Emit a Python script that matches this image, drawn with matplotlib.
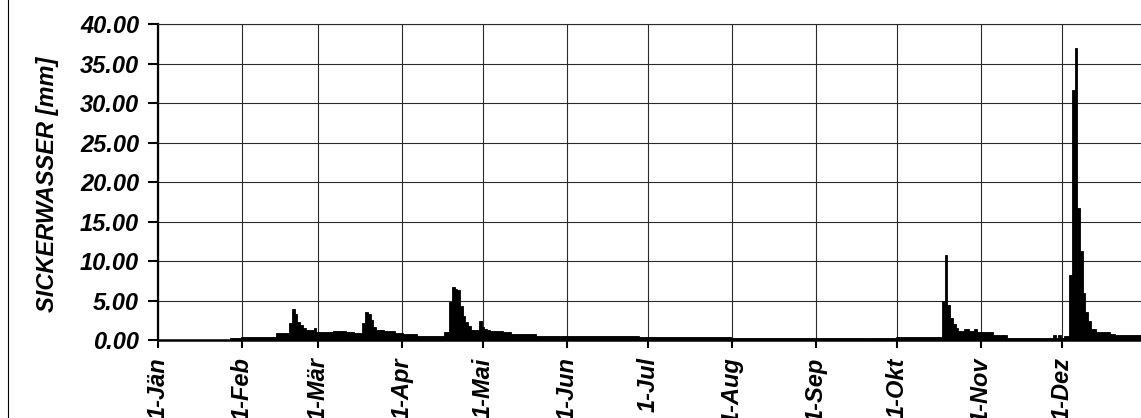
import numpy as np
import matplotlib
matplotlib.use("Agg")
import matplotlib.pyplot as plt
from matplotlib.ticker import FormatStrFormatter
from matplotlib.lines import Line2D

# Fonts: Arial-like, bold italic everywhere
plt.rcParams['font.family'] = ['Liberation Sans', 'DejaVu Sans']
plt.rcParams['font.weight'] = 'bold'
plt.rcParams['font.style'] = 'italic'

# Daily seepage values (mm), one list per month
jan = [0, 0, 0, 0, 0, 0, 0, 0, 0, 0,
       0, 0, 0, 0, 0, 0, 0, 0, 0, 0,
       0, 0, 0, 0, 0, 0, 0, 0.2, 0.2, 0.2,
       0.2]
feb = [0.4, 0.4, 0.4, 0.4, 0.4, 0.4, 0.4, 0.4, 0.4, 0.4,
       0.4, 0.4, 0.4, 0.85, 0.85, 0.85, 0.85, 0.85, 2.2, 3.9,
       3.3, 2.3, 1.9, 1.5, 1.27, 1.27, 1.27, 1.55]
mar = [1.05, 1.05, 1.05, 1.05, 1.05, 1.05, 1.15, 1.15, 1.15, 1.15,
       1.15, 1.0, 1.0, 1.0, 0.93, 0.93, 0.93, 2.1, 3.5, 3.3,
       2.5, 1.6, 1.27, 1.27, 1.27, 1.2, 1.2, 1.2, 1.2, 0.85,
       0.85]
apr = [0.85, 0.76, 0.76, 0.76, 0.76, 0.76, 0.5, 0.5, 0.5, 0.5,
       0.5, 0.5, 0.5, 0.5, 0.5, 0.5, 1.0, 1.05, 4.8, 6.7,
       6.5, 6.3, 4.3, 3.0, 2.3, 1.8, 1.3, 1.27, 1.27, 2.4]
mai = [1.7, 1.4, 1.3, 1.18, 1.18, 1.18, 1.18, 1.18, 1.05, 1.05,
       1.05, 0.76, 0.76, 0.76, 0.76, 0.76, 0.76, 0.76, 0.76, 0.76,
       0.5, 0.5, 0.5, 0.5, 0.5, 0.5, 0.5, 0.5, 0.5, 0.5,
       0.5]
jun = [0.5, 0.5, 0.5, 0.5, 0.5, 0.5, 0.5, 0.5, 0.5, 0.5,
       0.5, 0.5, 0.5, 0.5, 0.5, 0.5, 0.5, 0.5, 0.5, 0.5,
       0.5, 0.5, 0.5, 0.5, 0.5, 0.5, 0.5, 0.35, 0.35, 0.35]
jul = [0.35, 0.35, 0.35, 0.35, 0.35, 0.35, 0.35, 0.35, 0.35, 0.35,
       0.35, 0.35, 0.35, 0.35, 0.35, 0.35, 0.35, 0.35, 0.35, 0.35,
       0.35, 0.35, 0.35, 0.35, 0.35, 0.35, 0.35, 0.35, 0.35, 0.35,
       0.35]
aug = [0.3, 0.3, 0.3, 0.3, 0.3, 0.3, 0.3, 0.3, 0.3, 0.3,
       0.3, 0.3, 0.3, 0.3, 0.3, 0.3, 0.3, 0.3, 0.3, 0.3,
       0.3, 0.3, 0.3, 0.3, 0.3, 0.3, 0.3, 0.3, 0.3, 0.3,
       0.3]
sep = [0.3, 0.3, 0.3, 0.3, 0.3, 0.3, 0.3, 0.3, 0.3, 0.3,
       0.3, 0.3, 0.3, 0.3, 0.3, 0.3, 0.3, 0.3, 0.3, 0.3,
       0.3, 0.3, 0.3, 0.3, 0.3, 0.3, 0.3, 0.3, 0.3, 0.3]
okt = [0.35, 0.35, 0.35, 0.35, 0.35, 0.35, 0.35, 0.35, 0.35, 0.35,
       0.35, 0.35, 0.35, 0.35, 0.35, 0.35, 0.35, 4.9, 10.8, 4.45,
       2.8, 2.0, 1.5, 1.15, 1.15, 1.36, 1.36, 1.2, 1.15, 1.4,
       1.0]
nov = [1.0, 1.0, 1.0, 1.0, 1.0, 0.63, 0.63, 0.63, 0.63, 0.63,
       0.3, 0.3, 0.3, 0.3, 0.3, 0.3, 0.3, 0.3, 0.3, 0.3,
       0.3, 0.3, 0.3, 0.3, 0.3, 0.3, 0.3, 0.6, 0.3, 0.6]
dez = [0.3, 0.5, 0.5, 8.2, 31.7, 36.9, 16.7, 11.3, 6.0, 3.5,
       2.4, 1.35, 1.35, 1.05, 1.05, 1.05, 1.05, 1.05, 0.8, 0.8,
       0.6, 0.6, 0.6, 0.6, 0.6, 0.6, 0.6, 0.6, 0.6, 0.6,
       0.6]

month_labels = ['1-Jän', '1-Feb', '1-Mär', '1-Apr', '1-Mai', '1-Jun',
                '1-Jul', '1-Aug', '1-Sep', '1-Okt', '1-Nov', '1-Dez']
y_ticks = [0, 5, 10, 15, 20, 25, 30, 35, 40]

months = [jan, feb, mar, apr, mai, jun, jul, aug, sep, okt, nov, dez]
values = np.concatenate([np.array(m, dtype=float) for m in months])
days = np.arange(len(values))
month_starts = np.cumsum([0] + [len(m) for m in months[:-1]])

# Figure 1141x418 px
W, H = 1141, 418
fig = plt.figure(figsize=(W / 100, H / 100), dpi=100)
px_day = 2.708
ax = fig.add_axes([158 / W, (H - 340) / H, 365 * px_day / W, 316 / H])

ax.bar(days, values, width=1.0, color='black', edgecolor='black',
       linewidth=0.6, zorder=3)

ax.set_xlim(0, 365)
ax.set_ylim(0, 40)
ax.set_yticks(y_ticks)
ax.yaxis.set_major_formatter(FormatStrFormatter('%.2f'))
ax.set_xticks(month_starts)
ax.set_xticklabels(month_labels, rotation=90, ha='center', va='top')

ax.grid(True, color='#2a2a2a', linewidth=0.8, zorder=0)
ax.set_axisbelow(True)

ax.spines['right'].set_visible(False)
ax.spines['top'].set_linewidth(0.8)
ax.spines['top'].set_color('#2a2a2a')
ax.spines['left'].set_linewidth(1.6)
ax.spines['bottom'].set_linewidth(1.8)

ax.tick_params(axis='y', direction='out', length=7.5, width=1.5,
               pad=6, labelsize=17)
ax.tick_params(axis='x', direction='out', length=5.5, width=1.5,
               pad=7, labelsize=17)

fig.text(48 / W, 1 - 184 / H, 'SICKERWASSER [mm]', rotation=90,
         ha='center', va='center', fontsize=17)

# outer chart border (left edge visible)
fig.add_artist(Line2D([7.5 / W, 7.5 / W], [0, 1], color='black',
                      linewidth=0.8, transform=fig.transFigure))

fig.savefig('out.png', dpi=100)
